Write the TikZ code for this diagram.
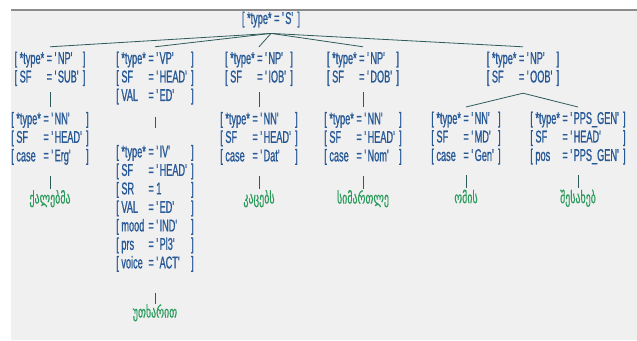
\documentclass[tikz,border=0pt]{standalone}
\usepackage{fontspec}
\usepackage{xcolor}
\usepackage{tikz}
\usetikzlibrary{positioning, calc}

\newfontfamily\featfont[FakeStretch=0.54, FakeBold=0.8]{Liberation Sans}
\newfontfamily\geofont[FakeStretch=0.62, FakeBold=0.5]{DejaVu Sans}

\definecolor{featblue}{RGB}{38,88,150}
\definecolor{branchgray}{RGB}{45,90,90}
\definecolor{wordgreen}{RGB}{40,155,90}
\definecolor{bgfill}{RGB}{240,240,240}
\definecolor{framegray}{RGB}{140,140,140}

\newcommand{\q}[1]{\textquotesingle#1\textquotesingle}
\newcommand{\featrow}[2]{{[}\ #1 & =\ #2 & {]}}

\begin{document}
\begin{tikzpicture}[
    x=1pt, y=-1pt,
    feat/.style={
        font=\featfont\fontsize{17}{18.5}\selectfont,
        text=featblue,
        inner sep=0pt,
        anchor=north
    },
    word/.style={
        font=\geofont\fontsize{16}{18}\selectfont,
        text=wordgreen,
        inner sep=0pt,
        text height=9pt,
        text depth=3pt
    },
    branch/.style={draw=branchgray, line width=0.8pt}
]

\useasboundingbox (0,0) rectangle (637,340);
\fill[bgfill] (11,10) rectangle (637,340);
\draw[framegray, line width=1.3pt] (11,10) -- (637,10);

\node[feat] (s) at (271,10.8) {\begin{tabular}{@{}l@{\ }l@{\,}l@{}}
\featrow{*type*}{\q{S}}
\end{tabular}};

\node[feat] (sub) at (50,50.8) {\begin{tabular}{@{}l@{\ }l@{\,}l@{}}
\featrow{*type*}{\q{NP}}\\
\featrow{SF}{\q{SUB}}
\end{tabular}};

\node[feat] (vp) at (155,50.8) {\begin{tabular}{@{}l@{\ }l@{\,}l@{}}
\featrow{*type*}{\q{VP}}\\
\featrow{SF}{\q{HEAD}}\\
\featrow{VAL}{\q{ED}}
\end{tabular}};

\node[feat] (iob) at (259,50.8) {\begin{tabular}{@{}l@{\ }l@{\,}l@{}}
\featrow{*type*}{\q{NP}}\\
\featrow{SF}{\q{IOB}}
\end{tabular}};

\node[feat] (dob) at (363,50.8) {\begin{tabular}{@{}l@{\ }l@{\,}l@{}}
\featrow{*type*}{\q{NP}}\\
\featrow{SF}{\q{DOB}}
\end{tabular}};

\node[feat] (oob) at (523,50.8) {\begin{tabular}{@{}l@{\ }l@{\,}l@{}}
\featrow{*type*}{\q{NP}}\\
\featrow{SF}{\q{OOB}}
\end{tabular}};

\node[feat, below=23pt of sub] (nnsub) {\begin{tabular}{@{}l@{\ }l@{\,}l@{}}
\featrow{*type*}{\q{NN}}\\
\featrow{SF}{\q{HEAD}}\\
\featrow{case}{\q{Erg}}
\end{tabular}};

\node[feat, below=37.5pt of vp] (iv) {\begin{tabular}{@{}l@{\ }l@{\,}l@{}}
\featrow{*type*}{\q{IV}}\\
\featrow{SF}{\q{HEAD}}\\
\featrow{SR}{1}\\
\featrow{VAL}{\q{ED}}\\
\featrow{mood}{\q{IND}}\\
\featrow{prs}{\q{Pl3}}\\
\featrow{voice}{\q{ACT}}
\end{tabular}};

\node[feat, below=23pt of iob] (nniob) {\begin{tabular}{@{}l@{\ }l@{\,}l@{}}
\featrow{*type*}{\q{NN}}\\
\featrow{SF}{\q{HEAD}}\\
\featrow{case}{\q{Dat}}
\end{tabular}};

\node[feat, below=23pt of dob] (nndob) {\begin{tabular}{@{}l@{\ }l@{\,}l@{}}
\featrow{*type*}{\q{NN}}\\
\featrow{SF}{\q{HEAD}}\\
\featrow{case}{\q{Nom}}
\end{tabular}};

\node[feat] (md) at (466,110.8) {\begin{tabular}{@{}l@{\ }l@{\,}l@{}}
\featrow{*type*}{\q{NN}}\\
\featrow{SF}{\q{MD}}\\
\featrow{case}{\q{Gen}}
\end{tabular}};

\node[feat] (pps) at (578,110.8) {\begin{tabular}{@{}l@{\ }l@{\,}l@{}}
\featrow{*type*}{\q{PPS\_GEN}}\\
\featrow{SF}{\q{HEAD}}\\
\featrow{pos}{\q{PPS\_GEN}}
\end{tabular}};

\node[word, below=27.2pt of nnsub] (wsub) {ქალებმა};
\node[word, below=34.2pt of iv] (wiv) {უთხარით};
\node[word, below=27.2pt of nniob] (wiob) {კაცებს};
\node[word, below=27.2pt of nndob] (wdob) {სიმართლე};
\node[word, below=27.2pt of md] (wmd) {ომის};
\node[word, below=27.2pt of pps] (wpps) {შესახებ};

\coordinate (sApex) at ([yshift=-3.7pt]s.south);
\foreach \k in {sub,vp,iob,dob,oob}
    \draw[branch] (sApex) -- ([yshift=4pt]\k.north);

\coordinate (oobApex) at ([yshift=-5pt]oob.south);
\draw[branch] (oobApex) -- ([yshift=3.8pt]md.north);
\draw[branch] (oobApex) -- ([yshift=3.8pt]pps.north);

\draw[branch] ([yshift=-4pt]sub.south) -- ([yshift=4pt]nnsub.north);
\draw[branch] ([yshift=-10.7pt]vp.south) -- ([yshift=15.8pt]iv.north);
\draw[branch] ([yshift=-4pt]iob.south) -- ([yshift=4pt]nniob.north);
\draw[branch] ([yshift=-4pt]dob.south) -- ([yshift=4pt]nndob.north);

\foreach \n/\w in {nnsub/wsub,nniob/wiob,nndob/wdob,md/wmd,pps/wpps}
    \draw[branch] ([yshift=-8.7pt]\n.south) -- ([yshift=5.5pt]\w.north);
\draw[branch] ([yshift=-18.7pt]iv.south) -- ([yshift=4.5pt]wiv.north);

\end{tikzpicture}
\end{document}
